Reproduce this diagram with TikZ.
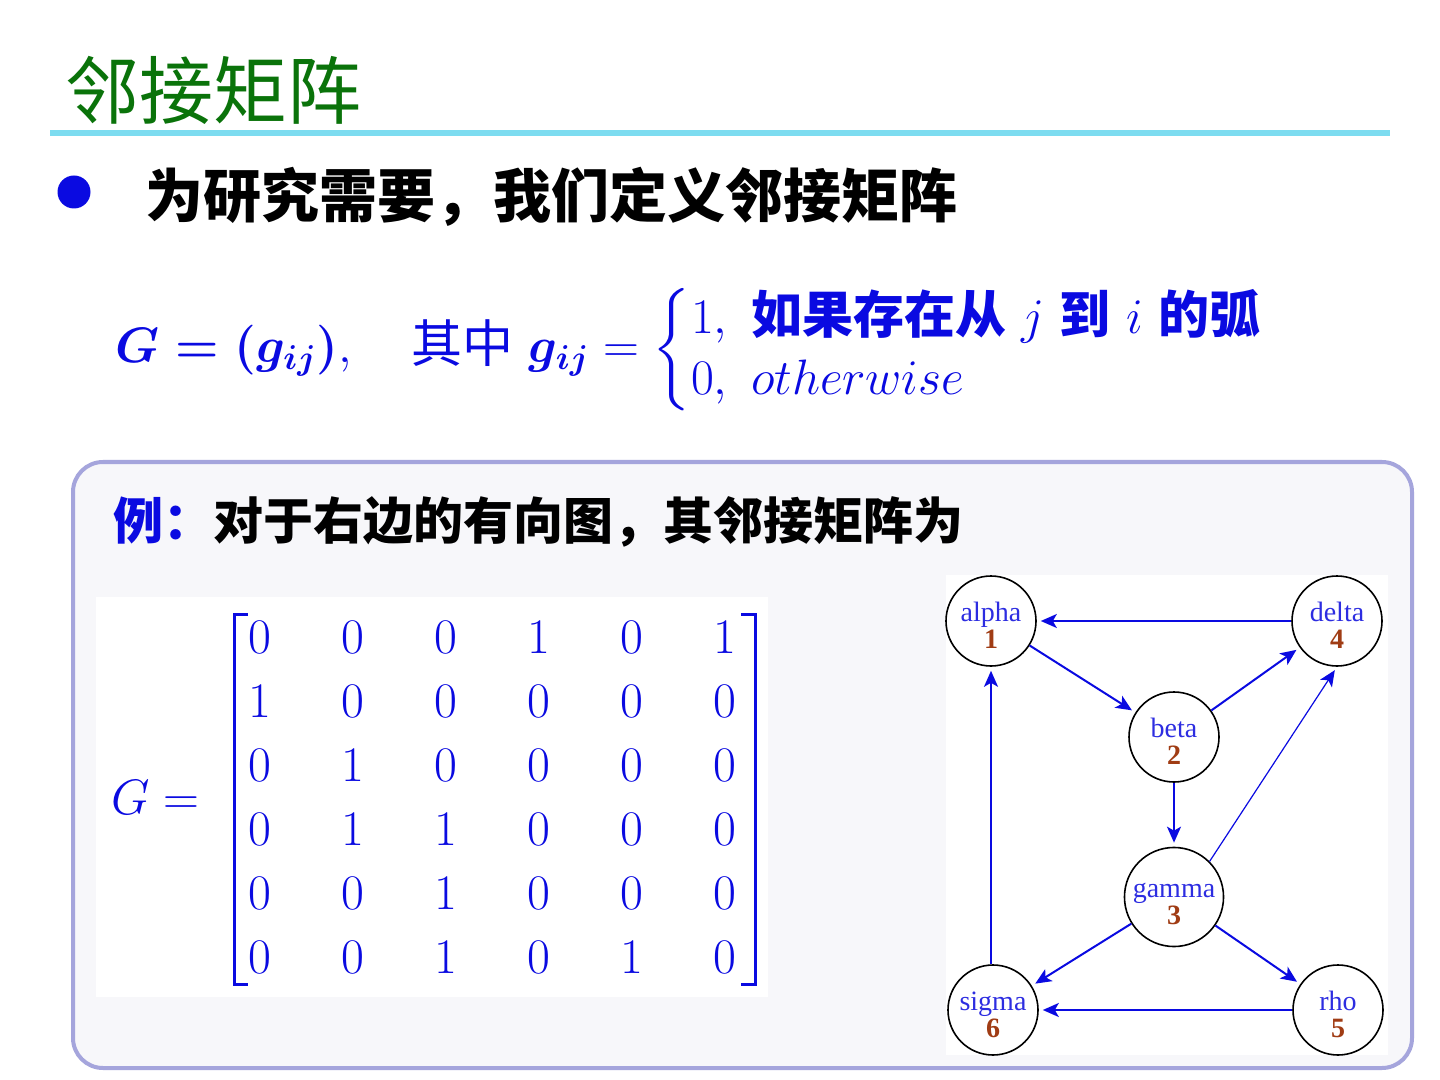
\documentclass[tikz,border=0pt]{standalone}
\usepackage{amsmath,amssymb}
\usepackage{fontspec}
\usepackage{xcolor}
\newfontfamily\cjk{Noto Sans CJK SC}
\newfontfamily\graphfont{Liberation Serif}
\usetikzlibrary{arrows.meta,positioning}

\definecolor{titlegreen}{RGB}{10,115,10}
\definecolor{rulecyan}{RGB}{125,220,240}
\definecolor{mathblue}{RGB}{10,10,225}
\definecolor{boxedge}{RGB}{165,165,220}
\definecolor{boxfill}{RGB}{247,247,250}
\definecolor{nameblue}{RGB}{45,45,225}
\definecolor{numbrown}{RGB}{160,60,20}

\tikzset{
  vertex/.style={draw,circle,line width=0.8pt,minimum size=45pt,inner sep=0pt,
    font=\graphfont\fontsize{14}{14}\selectfont},
  arc/.style={draw=mathblue,line width=1pt,-{Stealth[length=8pt,width=7pt,inset=2pt]},shorten >=2pt},
  entry/.style={text=mathblue,font=\fontsize{26}{30}\selectfont}
}
\newcommand{\vlabel}[2]{\raisebox{-4pt}[\height][\depth]{\begin{tabular}{@{}c@{}}%
  \textcolor{nameblue}{#1}\\[-0.5pt]\textcolor{numbrown}{\bfseries #2}\end{tabular}}}

\begin{document}
\begin{tikzpicture}[x=0.5pt,y=-0.5pt]
  \fill[white] (0,0) rectangle (1440,1080);
  \useasboundingbox (0,0) rectangle (1440,1080);

  % title
  \node[anchor=west,text=titlegreen,font=\cjk\fontsize{37}{40}\selectfont] (title) at (58,90) {邻接矩阵};
  \draw[rulecyan,line width=3pt] (50,133) -- (1390,133);

  % definition
  \node[circle,fill=mathblue,minimum size=16.5pt,inner sep=0pt] (dot) at (74,192) {};
  \node[anchor=west,font=\cjk\bfseries\fontsize{29}{32}\selectfont] (intro) at (138,197) {为研究需要，我们定义邻接矩阵};
  \node[anchor=west,text=mathblue,font=\fontsize{25.5}{29}\selectfont] (def) at (108,350)
    {$\boldsymbol{G=(g_{ij})},\quad\text{\cjk 其中}\ \boldsymbol{g_{ij}}=
      \begin{cases}1,\ \text{\cjk\bfseries 如果存在从}\ j\ \text{\cjk\bfseries 到}\ i\ \text{\cjk\bfseries 的弧}\\[-4pt] 0,\ otherwise\end{cases}$};

  % example box
  \draw[boxedge,line width=2pt,fill=boxfill,rounded corners=15pt] (73,462) rectangle (1412,1068);
  \node[anchor=west,font=\cjk\bfseries\fontsize{25}{28}\selectfont] (ex) at (106,522)
    {\textcolor{mathblue}{例：}对于右边的有向图，其邻接矩阵为};

  % matrix
  \fill[white] (96,597) rectangle (768,997);
  \node[anchor=west,text=mathblue,font=\fontsize{26}{30}\selectfont] (lhs) at (104,797) {$G=$};
  \foreach \r/\vals in {1/{0,0,0,1,0,1},2/{1,0,0,0,0,0},3/{0,1,0,0,0,0},
                        4/{0,1,1,0,0,0},5/{0,0,1,0,0,0},6/{0,0,1,0,1,0}}
    \foreach \v [count=\c] in \vals
      \node[entry] (m-\r-\c) at ({167+93*\c},{573+64*\r}) {$\v$};
  \draw[mathblue,line width=1.5pt] (248,614) -- (234,614) -- (234,984) -- (248,984);
  \draw[mathblue,line width=1.5pt] (741,614) -- (755,614) -- (755,984) -- (741,984);

  % digraph
  \fill[white] (946,575) rectangle (1388,1055);
  \node[vertex] (alpha) at (991,621)  {\vlabel{alpha}{1}};
  \node[vertex] (delta) at (1337,621) {\vlabel{delta}{4}};
  \node[vertex] (beta)  at (1174,737) {\vlabel{beta}{2}};
  \node[vertex] (gamma) at (1174,897) {\vlabel{gamma}{3}};
  \node[vertex] (sigma) at (993,1010) {\vlabel{sigma}{6}};
  \node[vertex] (rho)   at (1338,1010) {\vlabel{rho}{5}};
  \draw[arc] (delta) -- (alpha);
  \draw[arc] (alpha) -- (beta);
  \draw[arc] (beta) -- (delta);
  \draw[arc] (beta) -- (gamma);
  \draw[arc,line width=0.6pt] (gamma.45) -- (delta.south);
  \draw[arc] (gamma) -- (rho);
  \draw[arc] (gamma) -- (sigma);
  \draw[arc] (rho) -- (sigma);
  \draw[arc] (sigma.north -| alpha) -- (alpha);
\end{tikzpicture}
\end{document}
